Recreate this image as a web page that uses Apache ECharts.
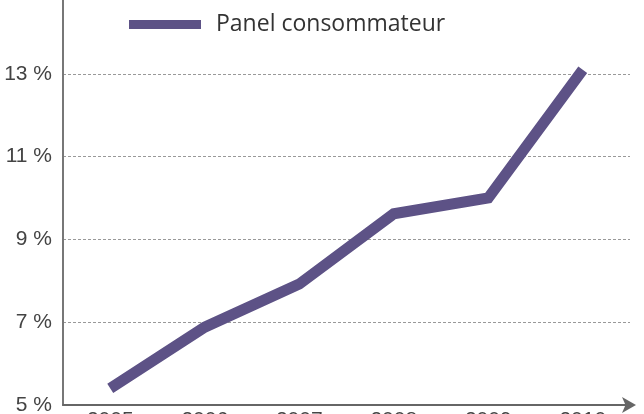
<!DOCTYPE html>
<html><head><meta charset="utf-8">
<script src="https://cdn.jsdelivr.net/npm/echarts@6/dist/echarts.min.js"></script>
<style>html,body{margin:0;padding:0;background:#fff}#c{width:644px;height:414px}</style>
</head><body><div id="c"></div>
<script>
const years = ['2005','2006','2007','2008','2009','2010'];
const panelValues = [5.4, 6.88, 7.92, 9.62, 10.0, 13.1];
const seriesName = 'Panel consommateur';
const yTicks = [5, 7, 9, 11, 13, 15];

const chart = echarts.init(document.getElementById('c'), null, {renderer:'canvas'});
chart.setOption({
  animation:false,
  backgroundColor:'#fff',
  legend:{
    data:[{name:seriesName, icon:'rect'}],
    left:124, top:8, itemWidth:72, itemHeight:9, itemGap:10,
    textStyle:{fontFamily:'Open Sans', fontSize:23, color:'#333', padding:[0,0,0,10]}
  },
  grid:{left:63, right:14, top:-9, bottom:9, containLabel:false, outerBoundsMode:'none'},
  xAxis:{
    type:'category', data:years, boundaryGap:true,
    axisLine:{show:true, lineStyle:{color:'#666', width:2}, symbol:['none','arrow'], symbolSize:[12,14], symbolOffset:[0,6]},
    axisTick:{show:false},
    axisLabel:{margin:5, fontFamily:'Liberation Sans', fontSize:21, color:'#444'}
  },
  yAxis:{
    type:'value', min:5, max:15, interval:2,
    axisLine:{show:true, lineStyle:{color:'#777', width:2}},
    axisTick:{show:false},
    axisLabel:{margin:11, fontFamily:'Liberation Sans', fontSize:21, color:'#444', showMaxLabel:true,
      formatter:v=> yTicks.includes(v) ? v + ' %' : ''},
    splitLine:{show:true, lineStyle:{color:'#999', type:[3,2], width:1}}
  },
  series:[{
    name:seriesName, type:'line', data:panelValues,
    symbol:'none', lineStyle:{color:'#5d5286', width:11, cap:'butt', join:'miter'},
    itemStyle:{color:'#5d5286'}
  }]
});
</script></body></html>
